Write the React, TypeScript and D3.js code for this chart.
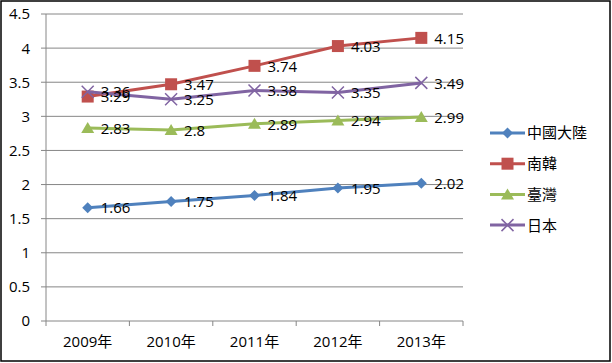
import * as d3 from 'd3';

const years = ['2009年', '2010年', '2011年', '2012年', '2013年'];
const china = [1.66, 1.75, 1.84, 1.95, 2.02];
const korea = [3.29, 3.47, 3.74, 4.03, 4.15];
const taiwan = [2.83, 2.8, 2.89, 2.94, 2.99];
const japan = [3.36, 3.25, 3.38, 3.35, 3.49];
const yTicks = [0, 0.5, 1, 1.5, 2, 2.5, 3, 3.5, 4, 4.5];

const series = [
  { name: '中國大陸', values: china, color: '#4F81BD', marker: 'diamond' },
  { name: '南韓', values: korea, color: '#C0504D', marker: 'square' },
  { name: '臺灣', values: taiwan, color: '#9BBB59', marker: 'triangle' },
  { name: '日本', values: japan, color: '#8064A2', marker: 'x' },
];

const font = '"Open Sans", "Noto Sans CJK TC", sans-serif';

function Marker({ type, x, y, color }: { type: string; x: number; y: number; color: string }) {
  if (type === 'diamond') {
    const s = 5.5;
    return <path d={`M${x},${y - s}L${x + s},${y}L${x},${y + s}L${x - s},${y}Z`} fill={color} />;
  }
  if (type === 'square') {
    return <rect x={x - 6} y={y - 6} width={12} height={12} fill={color} />;
  }
  if (type === 'triangle') {
    return <path d={`M${x},${y - 6}L${x + 6.5},${y + 5}L${x - 6.5},${y + 5}Z`} fill={color} />;
  }
  return (
    <path d={`M${x - 6},${y - 6}L${x + 6},${y + 6}M${x - 6},${y + 6}L${x + 6},${y - 6}`} stroke={color} strokeWidth={1.5} />
  );
}

export default function App() {
  const width = 612;
  const height = 363;
  const x0 = 46;
  const x1 = 463;
  const yTop = 14;
  const yBottom = 321;

  const x = d3.scaleBand().domain(years).range([x0, x1]);
  const y = d3.scaleLinear().domain([0, 4.5]).range([yBottom, yTop]);
  const cx = (i: number) => (x(years[i]) ?? 0) + x.bandwidth() / 2;

  const line = d3
    .line<number>()
    .x((_, i) => cx(i))
    .y((d) => y(d));

  return (
    <svg
      width={width}
      height={height}
      style={{ position: 'absolute', left: 0, top: 0, fontFamily: font }}
    >
      <rect x={0} y={0} width={width} height={height} fill="#fff" />
      <rect x={1} y={1} width={width - 3} height={height - 3} fill="none" stroke="#000" strokeWidth={1.5} />

      {yTicks.map((t) => (
        <g key={t}>
          <line x1={x0 - 5} x2={x1} y1={y(t)} y2={y(t)} stroke="#868686" strokeWidth={1} />
          <text x={x0 - 16} y={y(t)} dy="0.36em" textAnchor="end" fontSize={15} fill="#000">
            {t}
          </text>
        </g>
      ))}
      <line x1={x0} x2={x0} y1={yTop} y2={yBottom + 5} stroke="#868686" strokeWidth={1} />
      {years.map((yr, i) => (
        <g key={yr}>
          <line
            x1={(x(yr) ?? 0) + x.bandwidth()}
            x2={(x(yr) ?? 0) + x.bandwidth()}
            y1={yBottom}
            y2={yBottom + 5}
            stroke="#868686"
          />
          <text x={cx(i)} y={yBottom + 21} dy="0.36em" textAnchor="middle" fontSize={15} fill="#000">
            {yr}
          </text>
        </g>
      ))}

      {series.map((s) => (
        <g key={s.name}>
          <path d={line(s.values) ?? ''} fill="none" stroke={s.color} strokeWidth={3} />
          {s.values.map((v, i) => (
            <Marker key={i} type={s.marker} x={cx(i)} y={y(v)} color={s.color} />
          ))}
        </g>
      ))}
      {series.map((s) => (
        <g key={s.name + 'l'}>
          {s.values.map((v, i) => (
            <text key={i} x={cx(i) + 13} y={y(v)} dy="0.38em" fontSize={15} fill="#000">
              {v}
            </text>
          ))}
        </g>
      ))}

      {series.map((s, i) => {
        const ly = 133 + i * 30.7;
        return (
          <g key={s.name + 'lg'}>
            <line x1={490} x2={525} y1={ly} y2={ly} stroke={s.color} strokeWidth={3} />
            <Marker type={s.marker} x={507.5} y={ly} color={s.color} />
            <text x={527} y={ly} dy="0.36em" fontSize={15} fill="#000">
              {s.name}
            </text>
          </g>
        );
      })}
    </svg>
  );
}
